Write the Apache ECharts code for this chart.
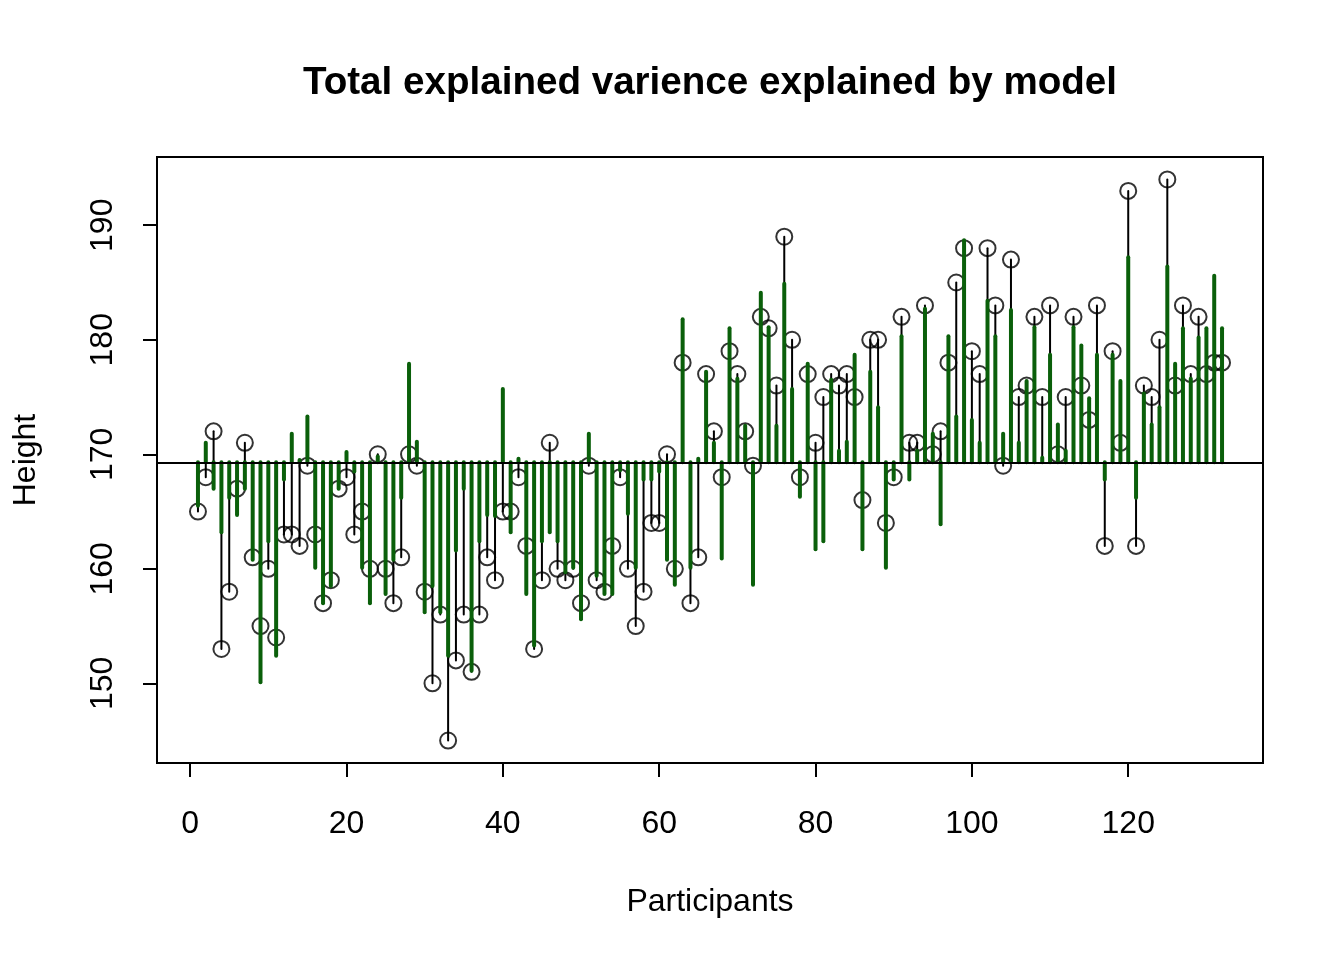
<!DOCTYPE html>
<html>
<head>
<meta charset="utf-8">
<title>Total explained varience explained by model</title>
<script src="https://cdn.jsdelivr.net/npm/echarts@6/dist/echarts.min.js"></script>
<style>
  html, body { margin: 0; padding: 0; background: #fff; }
  #chart { width: 1344px; height: 960px; }
</style>
</head>
<body>
<div id="chart"></div>
<script>
// ---- Data ----
const observedHeight = [
  165,168,172,153,158,167,171,161,155,160,
  154,163,163,162,169,163,157,159,167,168,
  163,165,160,170,160,157,161,170,169,158,
  150,156,145,152,156,151,156,161,159,165,
  165,168,162,153,159,171,160,159,160,157,
  169,159,158,162,168,160,155,158,164,164,
  170,160,178,157,161,177,172,168,179,177,
  172,169,182,181,176,189,180,168,177,171,
  175,177,176,177,175,166,180,180,164,168,
  182,171,171,183,170,172,178,185,188,179,
  177,188,183,169,187,175,176,182,175,183,
  170,175,182,176,173,183,162,179,171,193,
  162,176,175,180,194,176,183,177,182,177,
  178,178
];
const fittedHeight = [
  165.5,171.0,167.0,163.2,166.2,164.7,167.0,160.8,150.1,162.4,
  152.4,167.8,171.8,169.5,173.3,160.1,157.0,158.5,167.0,170.2,
  168.5,160.1,157.0,169.8,157.8,160.8,166.2,177.9,171.1,156.2,
  158.5,156.2,152.4,161.6,167.0,151.1,162.4,164.7,164.6,175.7,
  163.2,169.6,157.8,153.3,162.4,163.2,162.4,159.7,160.1,155.6,
  171.8,159.4,157.8,157.8,168.6,164.8,160.1,167.8,167.8,168.5,
  160.8,158.6,181.8,160.1,169.6,177.2,171.0,160.9,181.0,176.6,
  172.5,158.6,184.1,181.1,172.5,184.9,175.7,166.3,177.9,161.7,
  162.4,176.5,170.3,171.1,178.7,161.7,177.2,174.1,160.1,167.8,
  180.3,167.8,170.3,182.7,171.8,163.9,180.3,173.3,188.7,173.0,
  171.0,183.4,180.3,171.8,182.6,171.0,176.4,181.1,169.7,178.7,
  172.6,170.3,181.1,179.5,174.9,178.7,167.8,178.7,176.4,187.2,
  166.2,175.3,172.6,174.1,186.4,177.9,181.0,176.6,180.2,181.0,
  185.6,181.0
];
const xTicks = [0, 20, 40, 60, 80, 100, 120];
const yTicks = [150, 160, 170, 180, 190];

// ---- Derived values ----
const meanHeight = observedHeight.reduce((a, b) => a + b, 0) / observedHeight.length;
const n = observedHeight.length;
const xPad = (n - 1) * 0.04;
const yMinData = Math.min(...observedHeight), yMaxData = Math.max(...observedHeight);
const yPad = (yMaxData - yMinData) * 0.04;

const observedPoints = observedHeight.map((v, i) => [i + 1, v]);
const fittedPoints = fittedHeight.map((v, i) => [i + 1, v]);

const FONT = "'Liberation Sans', Arial, Helvetica, sans-serif";

function stemRenderer(color, width) {
  return function (params, api) {
    const x = api.value(0), y = api.value(1);
    const p0 = api.coord([x, meanHeight]);
    const p1 = api.coord([x, y]);
    return {
      type: 'line',
      shape: { x1: p0[0], y1: p0[1], x2: p1[0], y2: p1[1] },
      style: { stroke: color, lineWidth: width, lineCap: 'round' }
    };
  };
}

const chart = echarts.init(document.getElementById('chart'), null, { renderer: 'canvas' });
chart.setOption({
  animation: false,
  backgroundColor: '#ffffff',
  title: {
    text: 'Total explained varience explained by model',
    left: 710,
    textAlign: 'center',
    top: 64,
    padding: 0,
    textStyle: { fontFamily: FONT, fontSize: 38.6, fontWeight: 'bold', color: '#000' }
  },
  grid: {
    left: 157, right: 81, top: 157, bottom: 197,
    show: true, borderColor: '#000', borderWidth: 2, backgroundColor: 'transparent'
  },
  xAxis: {
    type: 'value',
    min: 1 - xPad, max: n + xPad,
    name: 'Participants',
    nameLocation: 'middle',
    nameGap: 123,
    nameTextStyle: { fontFamily: FONT, fontSize: 32, color: '#000' },
    axisLine: { show: false, onZero: false },
    splitLine: { show: false },
    axisTick: { show: true, length: 14, lineStyle: { color: '#000', width: 2 }, customValues: xTicks },
    axisLabel: { fontFamily: FONT, fontSize: 32, color: '#000', margin: 45, customValues: xTicks }
  },
  yAxis: {
    type: 'value',
    min: yMinData - yPad, max: yMaxData + yPad,
    name: 'Height',
    nameLocation: 'middle',
    nameGap: 115,
    nameRotate: 90,
    nameTextStyle: { fontFamily: FONT, fontSize: 32, color: '#000' },
    axisLine: { show: false, onZero: false },
    splitLine: { show: false },
    axisTick: { show: true, length: 14, lineStyle: { color: '#000', width: 2 }, customValues: yTicks },
    axisLabel: { fontFamily: FONT, fontSize: 32, color: '#000', margin: 38, rotate: 90, customValues: yTicks }
  },
  series: [
    {
      name: 'Observed',
      type: 'scatter',
      data: observedPoints,
      symbol: 'circle',
      symbolSize: 16,
      itemStyle: { color: 'rgba(0,0,0,0)', borderColor: '#000', borderWidth: 2 },
      emphasis: { disabled: true },
      silent: true,
      z: 2
    },
    {
      name: 'Residual',
      type: 'custom',
      data: observedPoints,
      encode: { x: 0, y: 1 },
      renderItem: stemRenderer('#000000', 2),
      silent: true,
      z: 3,
      markLine: {
        silent: true,
        symbol: ['none', 'none'],
        label: { show: false },
        lineStyle: { color: '#000', width: 2, type: 'solid' },
        data: [{ yAxis: meanHeight }]
      }
    },
    {
      name: 'Fitted',
      type: 'custom',
      data: fittedPoints,
      encode: { x: 0, y: 1 },
      renderItem: stemRenderer('#0a5f0a', 4),
      silent: true,
      z: 4
    }
  ]
});
</script>
</body>
</html>
